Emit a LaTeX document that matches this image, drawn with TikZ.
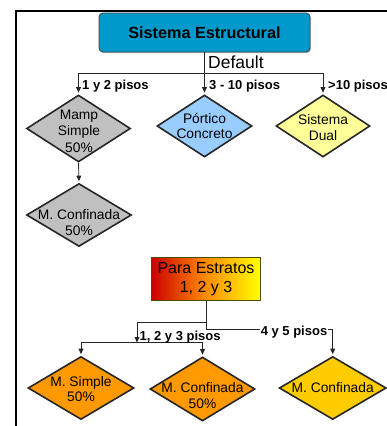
\documentclass[tikz,border=0pt]{standalone}
\usepackage{fontspec}
\setmainfont{Liberation Sans}
\usetikzlibrary{shapes.geometric,arrows.meta,shadows}
\definecolor{topblue}{HTML}{0099CC}
\definecolor{dgray}{HTML}{C0C0C0}
\definecolor{lblue}{HTML}{99CCFF}
\definecolor{lyellow}{HTML}{FFFF99}
\definecolor{dorange}{HTML}{FF9900}
\definecolor{gold}{HTML}{FFCC00}
\definecolor{gradred}{HTML}{CC0000}
\definecolor{gradyel}{HTML}{FFFF00}
\definecolor{olive}{HTML}{4D4D00}
\tikzset{
  dia/.style={diamond, draw=black!85, line width=1.6pt, inner sep=0pt},
  dtxt/.style={font=\fontsize{13.8}{15.5}\selectfont, align=center, inner sep=0pt},
  lbl/.style={font=\bfseries\fontsize{13}{15}\selectfont, inner sep=0pt},
  conn/.style={draw=black!85, line width=0.8pt},
  arr/.style={conn, -{Triangle[length=5.5pt,width=4.8pt]}, shorten >=1.5pt},
}
\begin{document}
\begin{tikzpicture}[x=1pt,y=-1pt]
\useasboundingbox (0,0) rectangle (387,426);
% frame
\draw[line width=2pt, line cap=rect] (15.8,427) -- (15.8,11) -- (388,11);

% top box
\node[rounded corners=4pt, draw=black!75, line width=0.8pt, fill=topblue,
      drop shadow={shadow xshift=1pt, shadow yshift=-1.2pt, opacity=0.5},
      minimum width=211pt, minimum height=39pt, inner sep=0pt,
      font=\bfseries\fontsize{16.2}{19}\selectfont] (top) at (204.5,32.5) {Sistema Estructural};

% first-level diamonds
\node[dia, fill=dgray, minimum width=104pt, minimum height=67pt] (d1) at (78.5,128.5) {};
\node[dia, fill=lblue, minimum width=95pt, minimum height=62pt] (d2) at (204.5,126) {};
\node[dia, fill=lyellow, minimum width=94pt, minimum height=62pt] (d3) at (323,126) {};
\node[dtxt, font=\fontsize{13.8}{16.5}\selectfont] (t1) at (79,131) {Mamp\\Simple\\50\%};
\node[dtxt, font=\fontsize{13.8}{15.5}\selectfont] (t2) at (204.5,126) {Pórtico\\Concreto};
\node[dtxt, font=\fontsize{13.8}{16.5}\selectfont] (t3) at (323,127.5) {Sistema\\Dual};

% second gray diamond
\node[dia, fill=dgray, minimum width=105pt, minimum height=63pt] (d4) at (79,215) {};
\node[dtxt, font=\fontsize{13.8}{15.5}\selectfont] (t4) at (79,222.5) {M. Confinada\\50\%};

% connectors from top
\coordinate (j1) at (204.5,73);
\draw[conn] (top.south) -- (j1);
\draw[arr] (j1) -- (d2.north);
\draw[arr] (j1) -| (d1.north);
\draw[arr] (j1) -| (d3.north);
\draw[arr] (d1.south) -- (d4.north);

\node[anchor=base west, inner sep=0pt, font=\fontsize{17.5}{20}\selectfont] (def) at (208,68.3) {Default};
\node[lbl, anchor=base west] (l1) at (82,89) {1 y 2 pisos};
\node[lbl, anchor=base west] (l2) at (209,89) {3 - 10 pisos};
\node[lbl, anchor=base west] (l3) at (328,89) {>10 pisos};

% Para Estratos box
\node[draw=olive, line width=0.8pt, left color=gradred, right color=gradyel, middle color=orange!90!yellow,
      minimum width=109pt, minimum height=43.5pt, inner sep=0pt, align=center,
      font=\fontsize{16}{19}\selectfont] (para) at (206,279) {Para Estratos\\1, 2 y 3};

% bottom diamonds
\node[dia, fill=dorange, minimum width=106pt, minimum height=63pt] (b1) at (81,388) {};
\node[dia, fill=dorange, minimum width=105pt, minimum height=64pt] (b2) at (202.5,389) {};
\node[dia, fill=gold, minimum width=107pt, minimum height=63pt] (b3) at (332.7,388) {};
\node[dtxt, font=\fontsize{13.8}{15}\selectfont] (s1) at (81,389.2) {M. Simple\\50\%};
\node[dtxt, font=\fontsize{13.8}{16}\selectfont] (s2) at (202.5,396) {M. Confinada\\50\%};
\node[dtxt] (s3) at (332.7,388) {M. Confinada};

% connectors from Para box
\coordinate (p1) at (206,322);
\coordinate (p2) at (137,342.5);
\coordinate (p3) at (206,329);
\draw[conn, -{Triangle[length=5.5pt,width=4.8pt]}] (para.south) -- (p1) -| (p2);
\draw[arr] (p2) -| (b1.north);
\draw[arr] (p2) -| (b2.north);
\draw[arr] (para.south) -- (p3) -| (b3.north);

\node[lbl, anchor=base west] (l4) at (139.5,340) {1, 2 y 3 pisos};
\node[lbl, anchor=base, fill=white, inner sep=0.6pt] (l5) at (294,335) {4 y 5 pisos};
\end{tikzpicture}
\end{document}
